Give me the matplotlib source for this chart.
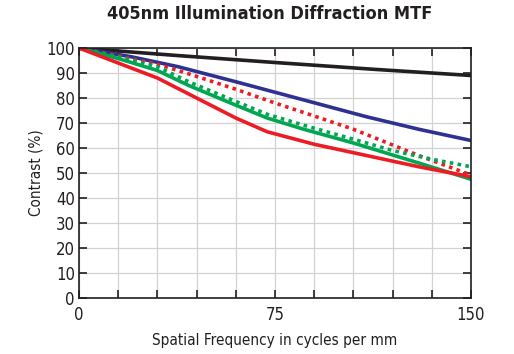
import numpy as np
import matplotlib.pyplot as plt
import matplotlib

matplotlib.rcParams['font.family'] = ['DejaVu Sans']
matplotlib.rcParams['font.stretch'] = 'condensed'

# spatial frequency (cycles/mm) and contrast (%)
black_x = [0, 37.5, 75, 112.5, 150]
black_y = [100, 97, 94.2, 91.5, 89]

blue_x = [0, 20, 38, 60, 85, 110, 130, 150]
blue_y = [100, 96.5, 92.5, 86.5, 79.5, 72.5, 67.5, 63]

red_dot_x = [0, 15, 30, 42.5, 60, 75, 88, 105, 130, 150]
red_dot_y = [100, 96.8, 93.5, 89.5, 83.5, 78, 73.5, 67.5, 57, 49.2]

green_dot_x = [0, 15, 30, 42, 58, 72, 88, 105, 120, 135, 150]
green_dot_y = [100, 96.5, 92.5, 86.5, 79.5, 73.5, 68.5, 63.5, 59, 55.5, 52.5]

green_x = [0, 15, 30, 42, 58, 72, 86, 105, 130, 150]
green_y = [100, 95.8, 91, 85, 78, 72, 67.5, 62, 54, 47.5]

red_x = [0, 15, 30, 45, 60, 72, 90, 110, 130, 150]
red_y = [100, 94, 88, 80, 72, 66.5, 61.5, 57, 52.5, 48.5]

fig = plt.figure(figsize=(5.14, 3.54), dpi=100)
ax = fig.add_axes([0.1537, 0.1582, 0.7626, 0.7062])

ax.set_xticks(np.arange(0, 151, 15), minor=True)
ax.set_xticks([0, 75, 150])
ax.set_yticks(np.arange(0, 101, 10))
ax.grid(True, which='both', color='#d2d2d2', linewidth=0.9)
ax.set_axisbelow(True)

lw = 2.6
ax.plot(black_x, black_y, color='#231f20', lw=lw)
ax.plot(blue_x, blue_y, color='#2e3192', lw=lw)
ax.plot(red_dot_x, red_dot_y, color='#ed1c24', lw=lw, linestyle=(0, (1, 1.2)))
ax.plot(green_dot_x, green_dot_y, color='#00a651', lw=lw, linestyle=(0, (1, 1.2)))
ax.plot(green_x, green_y, color='#00a651', lw=lw)
ax.plot(red_x, red_y, color='#ed1c24', lw=lw)

ax.set_xlim(0, 150)
ax.set_ylim(0, 100)
ax.tick_params(which='both', direction='in', top=True, right=True, length=6,
               width=1.2, labelsize=12, color='#231f20', labelcolor='#231f20')
ax.tick_params(axis='x', pad=6)
ax.tick_params(axis='y', pad=3)
for s in ax.spines.values():
    s.set_linewidth(1.2)
    s.set_color('#231f20')

ax.set_xlabel('Spatial Frequency in cycles per mm', fontsize=11, labelpad=6, color='#231f20')
ax.set_ylabel('Contrast (%)', fontsize=11, labelpad=2, color='#231f20')
fig.suptitle('405nm Illumination Diffraction MTF', fontsize=13, fontweight='bold',
             x=0.525, y=0.985, color='#231f20')

plt.savefig('out.png', dpi=100)
